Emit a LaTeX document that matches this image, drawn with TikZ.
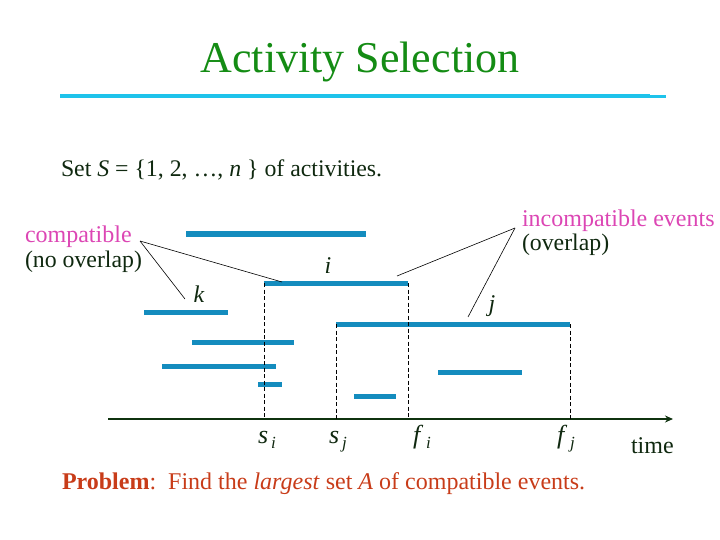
\documentclass[tikz,border=0pt]{standalone}
\usepackage{fontspec}
\setmainfont{Liberation Serif}
\usetikzlibrary{arrows.meta}
\definecolor{titlegreen}{RGB}{20,140,20}
\definecolor{rulecyan}{RGB}{30,195,235}
\definecolor{barblue}{RGB}{20,140,190}
\definecolor{magentatxt}{RGB}{220,70,180}
\definecolor{darktxt}{RGB}{15,40,15}
\definecolor{axisgreen}{RGB}{15,50,15}
\definecolor{problemred}{RGB}{200,60,25}
\newcommand{\lbl}[2]{\textit{#1}\hspace{3pt}\raisebox{-5pt}{\fontsize{17}{17}\selectfont\textit{#2}}}
\begin{document}
\begin{tikzpicture}[x=1pt,y=-1pt,
  every node/.style={inner sep=0pt, outer sep=0pt},
  bar/.style={draw=barblue, line width=5pt},
  guide/.style={draw=black, line width=0.7pt, dash pattern=on 4pt off 2.5pt},
  pointer/.style={draw=black, line width=0.6pt},
  body/.style={text=darktxt, font=\fontsize{23.8}{26}\selectfont},
  tag/.style={text=darktxt, font=\fontsize{24}{24}\selectfont\itshape},
  tick/.style={text=darktxt, font=\fontsize{26}{26}\selectfont}]
\useasboundingbox (0,0) rectangle (720,540);

% title
\node[anchor=base, text=titlegreen, font=\fontsize{44}{48}\selectfont] (title) at (360,73) {Activity Selection};
\draw[rulecyan, line width=4pt] (60,96) -- (650,96);
\draw[rulecyan, line width=3pt] (648,97) -- (666,97);

% set line
\node[body, anchor=base west] (setS) at (61,177) {Set \textit{S} = \{1, 2, \dots, \textit{n} \} of activities.};

% annotation texts
\node[anchor=base west, text=magentatxt, font=\fontsize{24}{26}\selectfont] (comp) at (25,243) {compatible};
\node[body, anchor=base west] (compsub) at (25,267) {(no overlap)};
\node[anchor=base west, text=magentatxt, font=\fontsize{24}{26}\selectfont] (incomp) at (522,226) {incompatible events};
\node[body, anchor=base west] (incompsub) at (522,250) {(overlap)};

% bars
\draw[bar] (186,234) -- (366,234);
\draw[bar] (264,283) coordinate (ibarL) -- (408,283) coordinate (ibarR);
\draw[bar] (144,312) -- (228,312);
\draw[bar] (336,324) coordinate (jbarL) -- (570,324) coordinate (jbarR);
\draw[bar] (192,342) -- (294,342);
\draw[bar] (162,366) -- (276,366);
\draw[bar] (258,384) -- (282,384);
\draw[bar] (438,372) -- (522,372);
\draw[bar] (354,396) -- (396,396);

% bar labels
\node[tag, anchor=base] (ilbl) at (328,273) {i};
\node[tag, anchor=base] (klbl) at (199,302) {k};
\node[tag, anchor=base] (jlbl) at (492,311) {j};

% axis
\coordinate (axL) at (108,419);
\coordinate (axR) at (673,419);
\draw[axisgreen, line width=2.5pt, -{Stealth[length=8pt,width=7pt]}] (axL) -- (axR);

% guides
\coordinate (si) at (264,419);
\coordinate (fi) at (408,419);
\coordinate (sj) at (336,419);
\coordinate (fj) at (570,419);
\draw[guide] (ibarL) -- (si);
\draw[guide] (ibarR) -- (fi);
\draw[guide] (jbarL) -- (sj);
\draw[guide] (jbarR) -- (fj);

% axis labels
\node[tick, anchor=base west] (silbl) at (258,443) {\lbl{s}{i}};
\node[tick, anchor=base west] (sjlbl) at (329,443) {\lbl{s}{j}};
\node[tick, anchor=base west] (filbl) at (413,443) {\lbl{f}{i}};
\node[tick, anchor=base west] (fjlbl) at (557,443) {\lbl{f}{j}};
\node[body, anchor=base west, font=\fontsize{24}{26}\selectfont] (timelbl) at (631,453) {time};

% pointer lines
\coordinate (compTip) at (140,241);
\coordinate (incTip) at (515,228);
\draw[pointer] (compTip) -- (282,282);
\draw[pointer] (compTip) -- (185,299);
\draw[pointer] (incTip) -- (397,276);
\draw[pointer] (incTip) -- (468,317);

% problem
\node[anchor=base west, text=problemred, font=\fontsize{24}{26}\selectfont] (problem) at (62,489) {\textbf{Problem}:\ \ Find the \textit{largest} set \textit{A} of compatible events.};
\end{tikzpicture}
\end{document}
